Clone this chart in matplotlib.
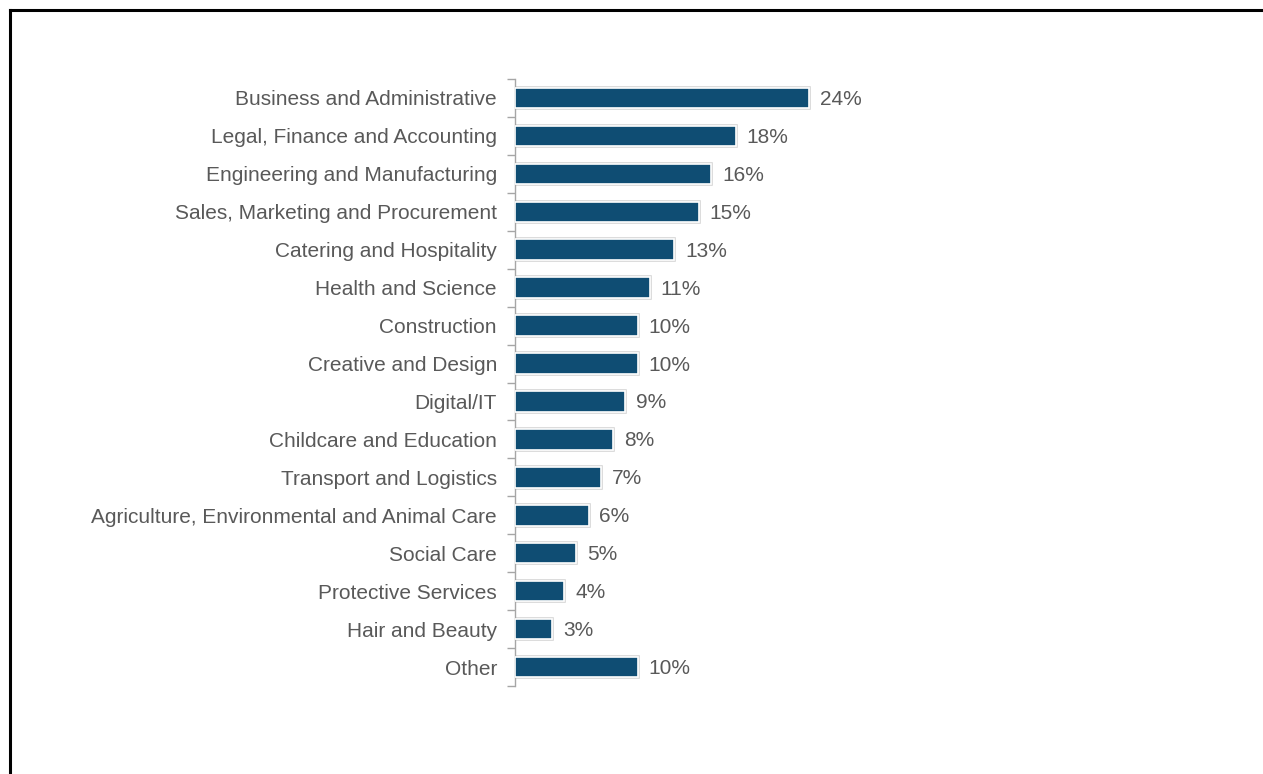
import matplotlib
matplotlib.use("Agg")
import matplotlib.pyplot as plt
from matplotlib.lines import Line2D
from matplotlib.transforms import offset_copy
import numpy as np

categories = [
    "Business and Administrative",
    "Legal, Finance and Accounting",
    "Engineering and Manufacturing",
    "Sales, Marketing and Procurement",
    "Catering and Hospitality",
    "Health and Science",
    "Construction",
    "Creative and Design",
    "Digital/IT",
    "Childcare and Education",
    "Transport and Logistics",
    "Agriculture, Environmental and Animal Care",
    "Social Care",
    "Protective Services",
    "Hair and Beauty",
    "Other",
]
values = [24, 18, 16, 15, 13, 11, 10, 10, 9, 8, 7, 6, 5, 4, 3, 10]
value_labels = [f"{v}%" for v in values]

plt.rcParams['font.family'] = ['Liberation Sans', 'DejaVu Sans']
TEXT = '#595959'
BAR = '#0F4D73'
FS = 15

W, H, DPI = 1263, 774, 100
fig = plt.figure(figsize=(W / DPI, H / DPI), dpi=DPI)

ax_left_px, ax_right_px = 515, 1200
ax_top_px, ax_bot_px = 79, 686
ax = fig.add_axes([ax_left_px / W, 1 - ax_bot_px / H,
                   (ax_right_px - ax_left_px) / W, (ax_bot_px - ax_top_px) / H])

px_per_unit = 12.25
ax.set_xlim(0, (ax_right_px - ax_left_px) / px_per_unit)
ax.set_ylim(len(categories) - 0.5, -0.5)

y = np.arange(len(categories))
ax.barh(y, values, height=0.54, color=BAR, edgecolor='#d4d4d4', linewidth=2.6, zorder=2)
ax.barh(y, values, height=0.54, color=BAR, edgecolor='white', linewidth=1.2, zorder=3)

lab_tr = offset_copy(ax.transData, fig=fig, x=0, y=-1.5, units='dots')
for yi, v, lab in zip(y, values, value_labels):
    ax.text(v + 11 / px_per_unit, yi, lab, va='center', ha='left',
            fontsize=FS, color=TEXT, transform=lab_tr)

ax.set_yticks(y)
ax.set_yticklabels(categories, fontsize=FS, color=TEXT)
ax.tick_params(axis='y', which='major', length=0, pad=13)
ax.set_yticks(np.arange(-0.5, len(categories), 1), minor=True)
ax.tick_params(axis='y', which='minor', length=6, color='#a6a6a6', width=1)
ax.set_xticks([])

for s in ['top', 'right', 'bottom']:
    ax.spines[s].set_visible(False)
ax.spines['left'].set_color('#a6a6a6')
ax.spines['left'].set_linewidth(1)

# figure border (top and left edges)
fig.add_artist(Line2D([10 / W, 1.0], [1 - 10 / H, 1 - 10 / H], transform=fig.transFigure,
                      color='black', linewidth=2.2))
fig.add_artist(Line2D([10 / W, 10 / W], [0, 1 - 10 / H], transform=fig.transFigure,
                      color='black', linewidth=2.2))

fig.savefig("out.png", dpi=DPI)
